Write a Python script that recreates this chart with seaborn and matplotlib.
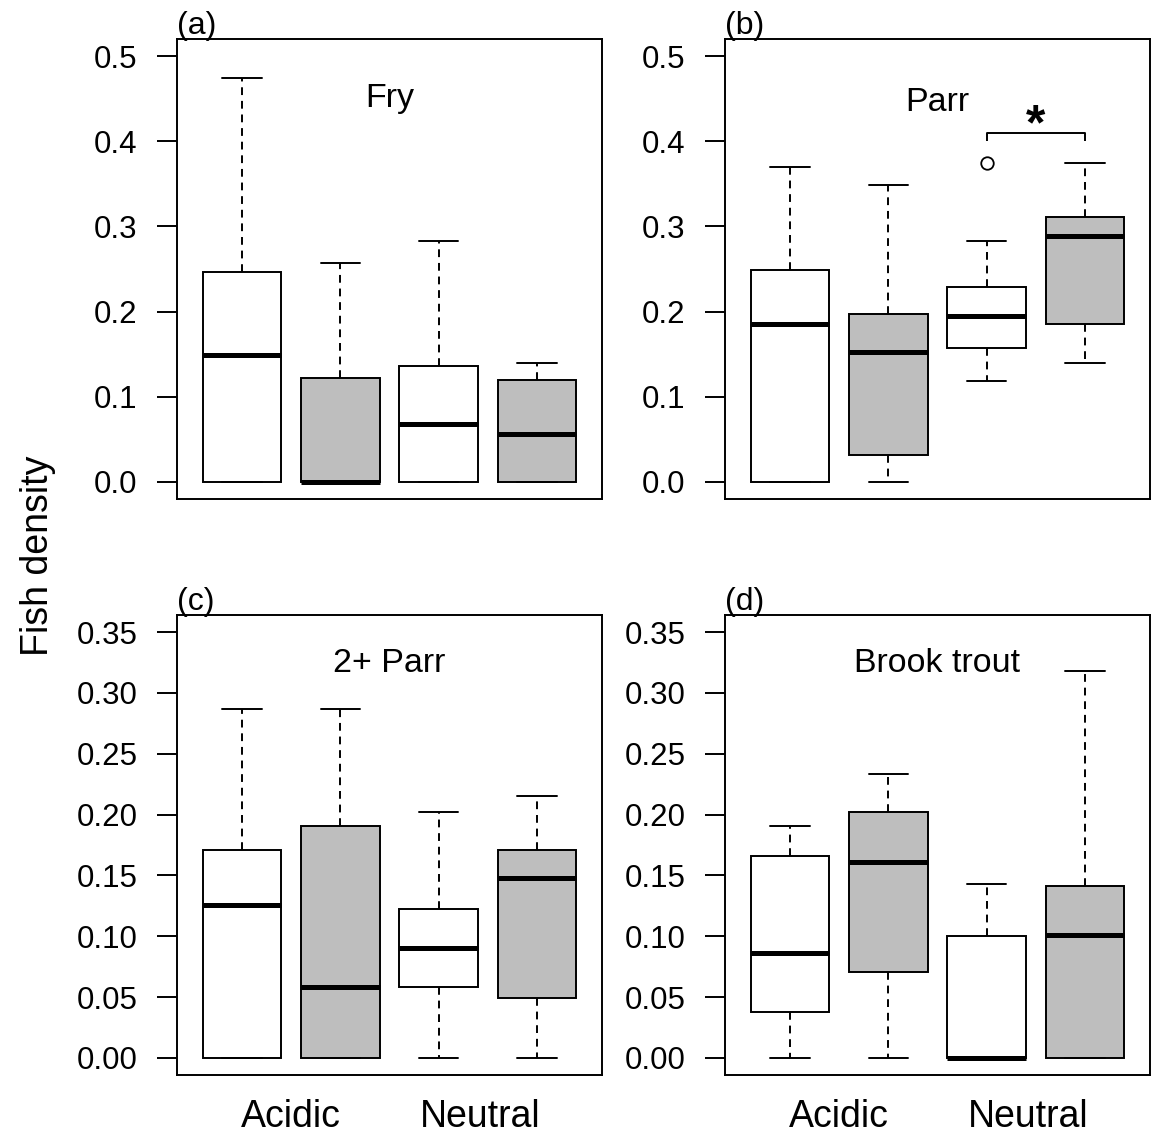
import matplotlib
matplotlib.use("Agg")
import matplotlib.pyplot as plt
import pandas as pd
import seaborn as sns

sns.set_style("white")
plt.rcParams["font.family"] = ["Liberation Sans", "DejaVu Sans"]
plt.rcParams["text.color"] = "black"
plt.rcParams["xtick.color"] = "black"
plt.rcParams["ytick.color"] = "black"
plt.rcParams["axes.labelcolor"] = "black"

# Four site groups: acidic / neutral streams, open and shaded boxes
groups = ["Acidic 1", "Acidic 2", "Neutral 1", "Neutral 2"]
box_colors = ["white", "#BEBEBE", "white", "#BEBEBE"]
site_labels = ["Acidic", "Neutral"]
site_label_pos = [0.5, 2.42]

# Fish density observations per group
fry = [
    [0.0, 0.0, 0.149, 0.247, 0.474],
    [0.0, 0.0, 0.0, 0.122, 0.257],
    [0.0, 0.0, 0.068, 0.136, 0.283],
    [0.0, 0.0, 0.056, 0.120, 0.140],
]
parr = [
    [0.0, 0.0, 0.185, 0.249, 0.370],
    [0.0, 0.032, 0.153, 0.197, 0.349],
    [0.118, 0.157, 0.157, 0.195, 0.195, 0.229, 0.229, 0.283, 0.375],
    [0.140, 0.185, 0.289, 0.311, 0.375],
]
parr_2plus = [
    [0.0, 0.0, 0.126, 0.171, 0.287],
    [0.0, 0.0, 0.058, 0.191, 0.287],
    [0.0, 0.058, 0.090, 0.122, 0.202],
    [0.0, 0.049, 0.148, 0.171, 0.215],
]
brook_trout = [
    [0.0, 0.038, 0.086, 0.166, 0.191],
    [0.0, 0.071, 0.161, 0.202, 0.233],
    [0.0, 0.0, 0.0, 0.100, 0.143],
    [0.0, 0.0, 0.101, 0.141, 0.318],
]

panels = [
    ("(a)", "Fry", fry, 0.870),
    ("(b)", "Parr", parr, 0.863),
    ("(c)", "2+ Parr", parr_2plus, 0.894),
    ("(d)", "Brook trout", brook_trout, 0.894),
]

yticks_top = [0.0, 0.1, 0.2, 0.3, 0.4, 0.5]
yticks_bottom = [0.0, 0.05, 0.10, 0.15, 0.20, 0.25, 0.30, 0.35]

W, H = 1151, 1139
fig = plt.figure(figsize=(W / 100, H / 100), dpi=100)
fig.patch.set_facecolor("white")

ax_w, ax_h = 425 / W, 460 / H
lefts = [177 / W, 725 / W]
bottoms = [1 - 499 / H, 1 - 1075 / H]

LW = 1.4


def long_frame(values):
    rows = [(g, v) for g, vals in zip(groups, values) for v in vals]
    return pd.DataFrame(rows, columns=["group", "density"])


for i, (tag, title, values, title_y) in enumerate(panels):
    row, col = divmod(i, 2)
    ax = fig.add_axes([lefts[col], bottoms[row], ax_w, ax_h])
    df = long_frame(values)
    sns.boxplot(
        data=df, x="group", y="density", hue="group",
        order=groups, hue_order=groups,
        palette=dict(zip(groups, box_colors)), saturation=1,
        width=0.8, whis=1.5, linecolor="black", linewidth=LW,
        fliersize=9, legend=False, ax=ax,
        medianprops=dict(linewidth=3.6),
        whiskerprops=dict(linestyle=(0, (4, 3))),
        flierprops=dict(marker="o", markerfacecolor="none",
                        markeredgewidth=1.3),
    )
    ax.set_xlim(-0.66, 3.66)
    if row == 0:
        ax.set_ylim(-0.02, 0.52)
        ax.set_yticks(yticks_top, [f"{t:.1f}" for t in yticks_top])
        ax.set_xticks([])
    else:
        ax.set_ylim(-0.014, 0.364)
        ax.set_yticks(yticks_bottom, [f"{t:.2f}" for t in yticks_bottom])
        ax.set_xticks(site_label_pos, site_labels)
    ax.set_xlabel("")
    ax.set_ylabel("")
    ax.tick_params(axis="y", left=True, length=14.4, width=LW, pad=14,
                   labelsize=22.5, direction="out", color="black",
                   labelcolor="black")
    ax.tick_params(axis="x", bottom=False, length=0, pad=17, labelsize=27,
                   labelcolor="black")
    for sp in ax.spines.values():
        sp.set_visible(True)
        sp.set_color("black")
        sp.set_linewidth(LW)

    ax.text(0.5, title_y, title, transform=ax.transAxes,
            ha="center", va="center", fontsize=24.5)
    ax.text(0.0, 0.995, tag, transform=ax.transAxes,
            ha="left", va="bottom", fontsize=23)

    if title == "Parr":
        # significance bracket between the two neutral groups
        ax.plot([2, 2, 3, 3], [0.400, 0.410, 0.410, 0.400],
                color="black", linewidth=LW, solid_capstyle="butt")
        ax.text(2.5, 0.402, "*", ha="center", va="baseline",
                fontsize=36, fontweight="bold")

fig.text(38 / W, 1 - 556 / H, "Fish density", rotation=90,
         ha="center", va="center", fontsize=27)

fig.savefig("out.png", dpi=100, facecolor="white")
